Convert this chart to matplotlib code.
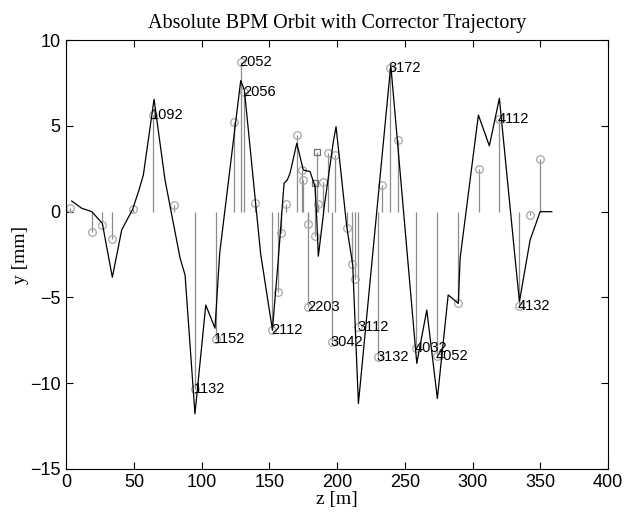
import matplotlib
matplotlib.use("Agg")
import matplotlib.pyplot as plt

# orbit trajectory (black line)
orbit_z = [4, 11.4, 18.8, 26.6, 34, 40.9, 49, 53.7, 56.9, 64.8, 72.9, 84, 87.7, 95,
           103, 109.8, 113.3, 128.8, 131.5, 143.5, 152.2, 156.6, 160.8, 163.2, 165.2,
           170.2, 175, 180, 183.7, 185, 186.1, 189.8, 190.3, 197.2, 199.2, 207.1,
           211.5, 215.7, 239.6, 258.8, 266.2, 274, 282, 289.5, 290.8, 304.3, 312.4,
           319.8, 331.4, 334.6, 341.2, 342.5, 349.9, 358.5]
orbit_y = [0.62, 0.2, 0.0, -0.68, -3.83, -1.07, 0.14, 1.27, 2.14, 6.56, 1.85, -2.7,
           -3.7, -11.8, -5.45, -6.8, -2.4, 7.65, 7.1, -2.45, -6.9, -2.72, 1.66, 1.85,
           2.24, 3.99, 2.43, 2.34, 1.46, -0.5, -2.6, -0.2, 0.2, 4.09, 4.96, -0.88,
           -3.1, -11.2, 8.56, -8.85, -5.74, -10.9, -4.86, -5.35, -2.72, 5.64, 3.84,
           6.62, -2.72, -5.25, -2.24, -1.65, 0.0, 0.0]

# BPM readings (gray stems with circles)
bpm_z = [3, 18.8, 26.6, 34, 49, 63.8, 79.5, 95, 110.3, 124, 128.8, 131.5, 139.4,
         152.2, 156.1, 158.5, 162.3, 170.2, 173.9, 175, 178.3, 178.8, 183.7, 186.1,
         189.8, 193.5, 196, 198.7, 207.3, 210.8, 213.2, 215.7, 230, 233, 239.1,
         245.2, 258.3, 274, 289.5, 304.8, 319.8, 334.6, 342.5, 349.9]
bpm_y = [0.2, -1.17, -0.78, -1.6, 0.14, 5.65, 0.39, -10.37, -7.45, 5.22, 8.76, 7.0,
         0.49, -6.9, -4.67, -1.26, 0.43, 4.48, 2.43, 1.85, -0.72, -5.55, -1.44, 0.45,
         1.75, 3.45, -7.6, 3.3, -0.95, -3.08, -3.92, -6.75, -8.5, 1.56, 8.37, 4.19,
         -7.94, -8.42, -5.35, 2.49, 5.39, -5.5, -0.19, 3.08]

# readings drawn with square markers
sq_z = [183.7, 184.9]
sq_y = [1.7, 3.5]

# labelled BPMs
label_z = [63.8, 95, 110.3, 128.8, 131.5, 152.2, 178.8, 196, 215.7, 230, 239.1,
           258.3, 274, 319.8, 334.6]
label_y = [5.65, -10.37, -7.45, 8.76, 7.0, -6.9, -5.55, -7.6, -6.75, -8.5, 8.37,
           -7.94, -8.42, 5.39, -5.5]
label_txt = ["1092", "1132", "1152", "2052", "2056", "2112", "2203", "3042", "3112",
             "3132", "3172", "4032", "4052", "4112", "4132"]

x_ticks = [0, 50, 100, 150, 200, 250, 300, 350, 400]
y_ticks = [-15, -10, -5, 0, 5, 10]

GRAY = "#8c8c8c"
MARK = "#a8a8a8"

fig = plt.figure(figsize=(6.29, 5.13), dpi=100)
ax = fig.add_axes([0.1054, 0.0864, 0.8612, 0.835])

ax.vlines(bpm_z + sq_z, 0, bpm_y + sq_y, color=GRAY, linewidth=0.9, zorder=1)
ax.plot(bpm_z, bpm_y, "o", mfc="none", mec=MARK, ms=5.5, mew=0.9, zorder=2)
ax.plot(sq_z, sq_y, "s", mfc="none", mec="#707070", ms=5, mew=0.9, zorder=2)
ax.plot(orbit_z, orbit_y, color="black", linewidth=0.9, zorder=3)

for zz, yy, t in zip(label_z, label_y, label_txt):
    ax.annotate(t, (zz, yy), xytext=(-1, 0), textcoords="offset points",
                ha="left", va="center", fontsize=10.5, family="Liberation Sans",
                color="black", zorder=4)

ax.set_xlim(0, 400)
ax.set_ylim(-15, 10)
ax.set_xticks(x_ticks)
ax.set_yticks(y_ticks)
ax.tick_params(direction="in", top=True, right=True, length=5, width=0.8,
               labelsize=13, pad=4)
for lab in ax.get_xticklabels() + ax.get_yticklabels():
    lab.set_family("Liberation Sans")
for s in ax.spines.values():
    s.set_linewidth(0.8)

ax.set_title("Absolute BPM Orbit with Corrector Trajectory", family="Liberation Serif",
             fontsize=14.5, pad=9)
ax.set_xlabel("z [m]", family="Liberation Serif", fontsize=14, labelpad=0)
ax.set_ylabel("y [mm]", family="Liberation Serif", fontsize=14, labelpad=1)

fig.savefig("out.png", dpi=100)
